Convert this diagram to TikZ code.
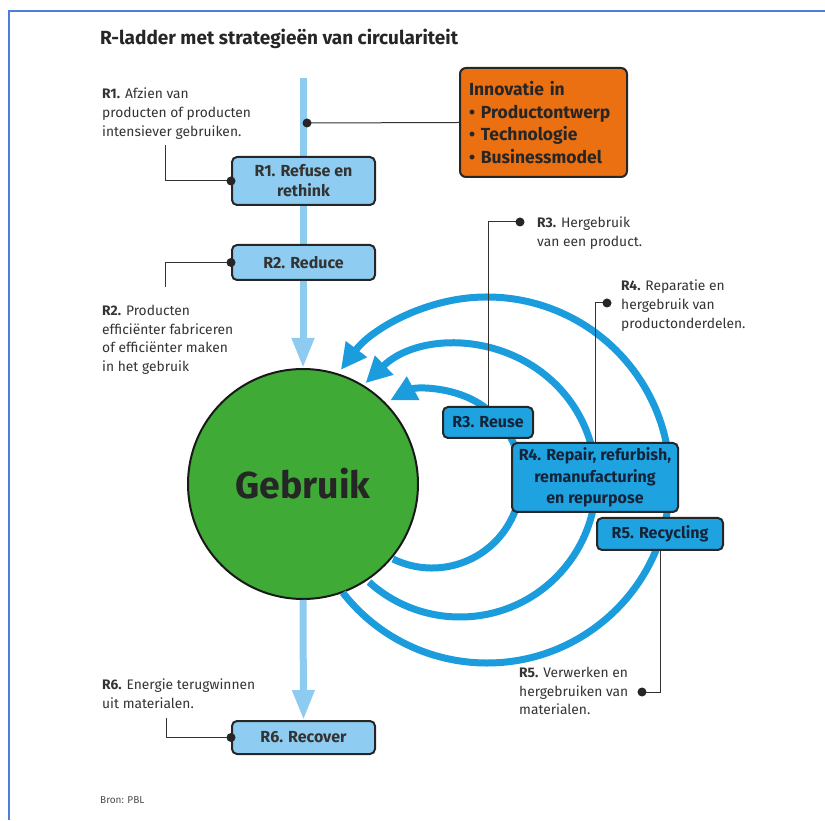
\documentclass[tikz,border=0pt]{standalone}
\usepackage{fontspec}
\setmainfont{Fira Sans}
\usetikzlibrary{arrows.meta}
\definecolor{lightline}{HTML}{8DCBF0}
\definecolor{lightbox}{HTML}{8ECDF1}
\definecolor{arcblue}{HTML}{1A9CDD}
\definecolor{boxblue}{HTML}{1FA3E0}
\definecolor{orangebox}{HTML}{EA7012}
\definecolor{greencirc}{HTML}{3FAA35}
\definecolor{frameblue}{HTML}{4C7FD8}
\definecolor{txt}{HTML}{333333}
\definecolor{navytxt}{HTML}{13243A}
\begin{document}
\begin{tikzpicture}[x=1pt,y=1pt,
  lbox/.style={draw=black!85, line width=2pt, rounded corners=5pt, fill=lightbox,
    minimum width=143pt, align=center, inner sep=2pt,
    font=\fontsize{16}{20}\selectfont\bfseries, text=black!80},
  bbox/.style={draw=black!85, line width=2pt, rounded corners=5pt, fill=boxblue,
    align=center, inner sep=2pt,
    font=\fontsize{16}{21.5}\selectfont\bfseries, text=navytxt},
  desc/.style={anchor=north west, inner sep=0pt, align=left, text=txt,
    font=\fontsize{13.8}{18.7}\selectfont},
  lightarrow/.style={draw=lightline, line width=7pt, -{Triangle[length=30pt,width=21pt]}},
  arcarrow/.style={draw=arcblue, line width=7pt, -{Triangle[length=26pt,width=25pt]}},
  conn/.style={draw=black!80, line width=1pt},
  dotc/.style={fill=black!85, circle, inner sep=0pt, minimum size=9pt},
]
\useasboundingbox (0,0) rectangle (825,820);
% frame
\draw[frameblue, line width=2pt] (9,0) -- (9,809) -- (825,809);

% title
\node[anchor=base west, inner sep=0pt, font=\fontsize{19}{22}\selectfont\bfseries, text=black!85]
  (title) at (100,775) {R-ladder met strategieën van circulariteit};

% main light-blue flow
\coordinate (top) at (303,742);
\node[circle, draw=black!90, line width=2pt, fill=greencirc, minimum size=230pt, inner sep=0pt,
  font=\fontsize{37.5}{40}\selectfont\bfseries, text=black!85] (gebruik) at (303,336) {Gebruik};
\node[lbox, minimum height=33pt] (r6) at (303.5,82.5) {R6. Recover};
\draw[lightarrow] (top) -- (gebruik.north);
\draw[lightarrow] (gebruik.south) -- (r6.north);

\node[lbox, minimum height=48pt] (r1) at (303.5,639) {R1. Refuse en\\rethink};
\node[lbox, minimum height=35pt] (r2) at (303.5,557.5) {R2. Reduce};

% orange box
\node[draw=black!85, line width=2pt, rounded corners=6pt, fill=orangebox,
  minimum height=109pt, text width=149pt, inner xsep=9pt, inner ysep=2pt, align=left,
  font=\fontsize{17.5}{22.5}\selectfont\bfseries, text=black!85]
  (innov) at (543.5,697.5) {Innovatie in\\• Productontwerp\\• Technologie\\• Businessmodel};
\coordinate (d0) at (307,697);
\draw[conn] (d0) -- (innov.west);
\node[dotc] at (d0) {};

% arcs
\draw[arcarrow] (432,341) ++(244:89) arc[start angle=244, end angle=478, radius=89];
\draw[arcarrow] (460,339) ++(228:136) arc[start angle=228, end angle=494, radius=136];
\draw[arcarrow] (487,340) ++(218:183) arc[start angle=218, end angle=503, radius=183];

% blue boxes
\node[bbox, minimum width=90pt, minimum height=31pt] (r3) at (488,397.5) {R3. Reuse};
\node[bbox, minimum width=166pt, minimum height=69pt] (r4) at (595,342.5)
  {R4. Repair, refurbish,\\remanufacturing\\en repurpose};
\node[bbox, minimum width=126pt, minimum height=32pt] (r5) at (660,286) {R5. Recycling};

% descriptions
\node[desc] (t1) at (102,732) {\textbf{R1.} Afzien van\\producten of producten\\intensiever gebruiken.};
\node[desc] (t2) at (102,515) {\textbf{R2.} Producten\\efficiënter fabriceren\\of efficiënter maken\\in het gebruik};
\node[desc] (t3) at (537,603) {\textbf{R3.} Hergebruik\\van een product.};
\node[desc] (t4) at (621,540) {\textbf{R4.} Reparatie en\\hergebruik van\\productonderdelen.};
\node[desc] (t5) at (519,153) {\textbf{R5.} Verwerken en\\hergebruiken van\\materialen.};
\node[desc] (t6) at (102,141) {\textbf{R6.} Energie terugwinnen\\uit materialen.};

% connectors
\coordinate (c1) at (165,675);
\draw[conn] (r1.west) -| (c1);
\node[dotc] at (r1.west) {};
\coordinate (c2) at (165,533);
\draw[conn] (r2.west) -| (c2);
\node[dotc] at (r2.west) {};
\coordinate (c6) at (166,102);
\draw[conn] (r6.west) -| (c6);
\node[dotc] at (r6.west) {};
\coordinate (d3) at (520,598);
\draw[conn] (r3.north) |- (d3);
\node[dotc] at (d3) {};
\coordinate (d4) at (607,517);
\draw[conn] (r4.north) |- (d4);
\node[dotc] at (d4) {};
\coordinate (d5) at (642,128);
\draw[conn] (r5.south) |- (d5);
\node[dotc] at (d5) {};

\node[anchor=base west, inner sep=0pt, font=\fontsize{10}{12}\selectfont, text=black!70]
  (bron) at (100,17) {Bron: PBL};
\end{tikzpicture}
\end{document}
